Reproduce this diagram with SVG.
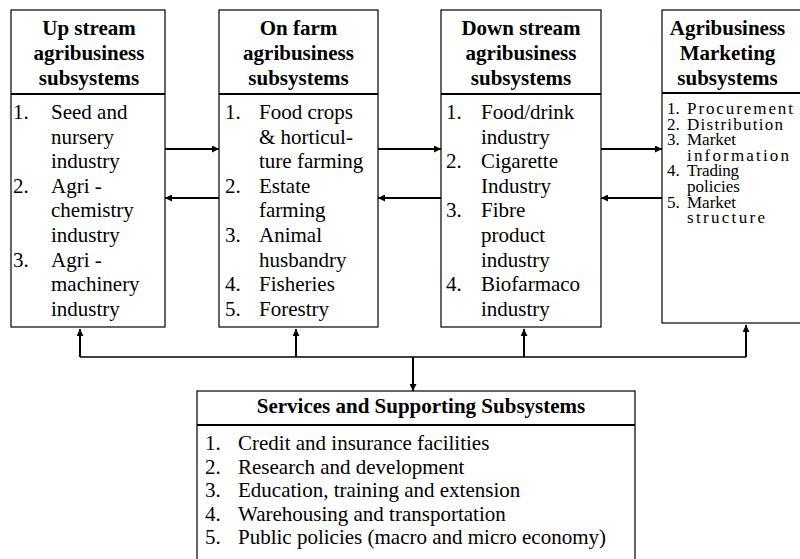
<svg xmlns="http://www.w3.org/2000/svg" width="800" height="559" viewBox="0 0 800 559">
  <defs>
    <style>
      .box { fill: #fff; stroke: #000; stroke-width: 1.2; }
      .div { stroke: #000; stroke-width: 2; }
      .hd { font-family: "Liberation Serif", "Times New Roman", serif; font-weight: bold; font-size: 21px; text-anchor: middle; fill: #000; }
      .tx { font-family: "Liberation Serif", "Times New Roman", serif; font-size: 21px; fill: #000; }
      .sm { font-family: "Liberation Serif", "Times New Roman", serif; font-size: 17px; fill: #000; }
      .ln { stroke: #000; stroke-width: 2; fill: none; }
    </style>
    <marker id="ah" viewBox="0 0 10 10" refX="10" refY="5" markerWidth="9" markerHeight="7" markerUnits="userSpaceOnUse" orient="auto">
      <path d="M0,0 L10,5 L0,10 z" fill="#000"/>
    </marker>
  </defs>

  <!-- Upstream subsystems -->
  <g id="upstream">
    <rect class="box" x="11" y="10" width="154" height="317"/>
    <line class="div" x1="11" y1="94" x2="165" y2="94"/>
    <text class="hd" x="89" y="35">Up stream</text>
    <text class="hd" x="89" y="60">agribusiness</text>
    <text class="hd" x="89" y="85">subsystems</text>
    <g class="tx">
      <text x="13" y="119">1.</text><text x="51" y="119">Seed and</text>
      <text x="51" y="143.6">nursery</text>
      <text x="51" y="168.2">industry</text>
      <text x="13" y="192.8">2.</text><text x="51" y="192.8">Agri -</text>
      <text x="51" y="217.4">chemistry</text>
      <text x="51" y="242">industry</text>
      <text x="13" y="266.6">3.</text><text x="51" y="266.6">Agri -</text>
      <text x="51" y="291.2">machinery</text>
      <text x="51" y="315.8">industry</text>
    </g>
  </g>

  <!-- On-farm subsystems -->
  <g id="onfarm">
    <rect class="box" x="219" y="10" width="159" height="317"/>
    <line class="div" x1="219" y1="94" x2="378" y2="94"/>
    <text class="hd" x="298.5" y="35">On farm</text>
    <text class="hd" x="298.5" y="60">agribusiness</text>
    <text class="hd" x="298.5" y="85">subsystems</text>
    <g class="tx">
      <text x="225" y="119">1.</text><text x="259" y="119">Food crops</text>
      <text x="259" y="143.6">&amp; horticul-</text>
      <text x="259" y="168.2">ture farming</text>
      <text x="225" y="192.8">2.</text><text x="259" y="192.8">Estate</text>
      <text x="259" y="217.4">farming</text>
      <text x="225" y="242">3.</text><text x="259" y="242">Animal</text>
      <text x="259" y="266.6">husbandry</text>
      <text x="225" y="291.2">4.</text><text x="259" y="291.2">Fisheries</text>
      <text x="225" y="315.8">5.</text><text x="259" y="315.8">Forestry</text>
    </g>
  </g>

  <!-- Downstream subsystems -->
  <g id="downstream">
    <rect class="box" x="441" y="10" width="160" height="317"/>
    <line class="div" x1="441" y1="94" x2="601" y2="94"/>
    <text class="hd" x="521" y="35">Down stream</text>
    <text class="hd" x="521" y="60">agribusiness</text>
    <text class="hd" x="521" y="85">subsystems</text>
    <g class="tx">
      <text x="446" y="119">1.</text><text x="481" y="119">Food/drink</text>
      <text x="481" y="143.6">industry</text>
      <text x="446" y="168.2">2.</text><text x="481" y="168.2">Cigarette</text>
      <text x="481" y="192.8">Industry</text>
      <text x="446" y="217.4">3.</text><text x="481" y="217.4">Fibre</text>
      <text x="481" y="242">product</text>
      <text x="481" y="266.6">industry</text>
      <text x="446" y="291.2">4.</text><text x="481" y="291.2">Biofarmaco</text>
      <text x="481" y="315.8">industry</text>
    </g>
  </g>

  <!-- Marketing subsystems -->
  <g id="marketing">
    <rect class="box" x="662" y="10" width="150" height="313"/>
    <line class="div" x1="662" y1="93" x2="812" y2="93"/>
    <text class="hd" x="727.5" y="35">Agribusiness</text>
    <text class="hd" x="727.5" y="60">Marketing</text>
    <text class="hd" x="727.5" y="85">subsystems</text>
    <g class="sm">
      <text x="667" y="114">1.</text><text x="687" y="114" textLength="106" lengthAdjust="spacing">Procurement</text>
      <text x="667" y="129.6">2.</text><text x="687" y="129.6" textLength="96" lengthAdjust="spacing">Distribution</text>
      <text x="667" y="145.2">3.</text><text x="687" y="145.2">Market</text>
      <text x="687" y="160.8" textLength="102" lengthAdjust="spacing">information</text>
      <text x="667" y="176.4">4.</text><text x="687" y="176.4" textLength="52" lengthAdjust="spacing">Trading</text>
      <text x="687" y="192">policies</text>
      <text x="667" y="207.6">5.</text><text x="687" y="207.6">Market</text>
      <text x="687" y="223.2" textLength="78" lengthAdjust="spacing">structure</text>
    </g>
  </g>

  <!-- Services and supporting subsystems -->
  <g id="services">
    <rect class="box" x="197" y="391" width="438" height="180"/>
    <line class="div" x1="197" y1="425" x2="635" y2="425"/>
    <text class="hd" x="421" y="413">Services and Supporting Subsystems</text>
    <g class="tx">
      <text x="205" y="450">1.</text><text x="238" y="450">Credit and insurance facilities</text>
      <text x="205" y="473.5">2.</text><text x="238" y="473.5">Research and development</text>
      <text x="205" y="497">3.</text><text x="238" y="497">Education, training and extension</text>
      <text x="205" y="520.5">4.</text><text x="238" y="520.5">Warehousing and transportation</text>
      <text x="205" y="544">5.</text><text x="238" y="544">Public policies (macro and micro economy)</text>
    </g>
  </g>

  <!-- Connectors -->
  <g id="connectors">
    <line class="ln" x1="165" y1="149" x2="219" y2="149" marker-end="url(#ah)"/>
    <line class="ln" x1="219" y1="198" x2="165" y2="198" marker-end="url(#ah)"/>
    <line class="ln" x1="378" y1="149" x2="441" y2="149" marker-end="url(#ah)"/>
    <line class="ln" x1="441" y1="198" x2="378" y2="198" marker-end="url(#ah)"/>
    <line class="ln" x1="601" y1="149" x2="662" y2="149" marker-end="url(#ah)"/>
    <line class="ln" x1="662" y1="198" x2="601" y2="198" marker-end="url(#ah)"/>

    <line class="ln" x1="80" y1="357" x2="746" y2="357" style="stroke-width:1.5"/>
    <line class="ln" x1="80" y1="357" x2="80" y2="329" marker-end="url(#ah)"/>
    <line class="ln" x1="296" y1="357" x2="296" y2="329" marker-end="url(#ah)"/>
    <line class="ln" x1="524" y1="357" x2="524" y2="329" marker-end="url(#ah)"/>
    <line class="ln" x1="746" y1="357" x2="746" y2="325" marker-end="url(#ah)"/>
    <line class="ln" x1="413" y1="357" x2="413" y2="391" marker-end="url(#ah)"/>
  </g>
</svg>
